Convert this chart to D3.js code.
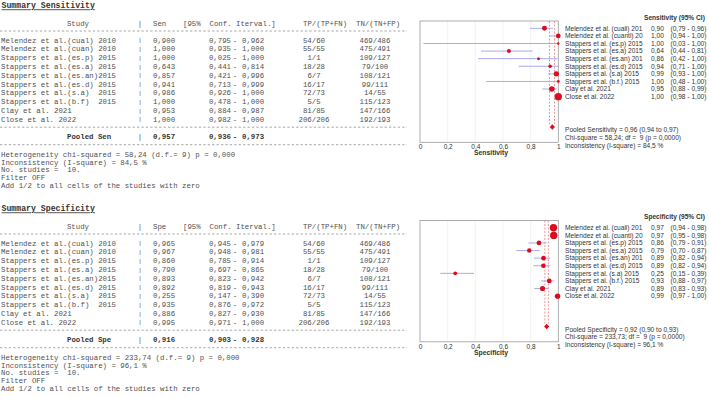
<!DOCTYPE html>
<html>
<head>
<meta charset="utf-8">
<script src="https://cdn.jsdelivr.net/npm/d3@7"></script>
<style>
  body { margin: 0; background: #fff; }
  text { white-space: pre; }
</style>
</head>
<body>
<script>
// studies as printed in the text report and in the forest plot
var tableStudies = ["Melendez et al.(cual) 2010", "Melendez et al.(cuan) 2010", "Stappers et al.(es.p) 2015",
  "Stappers et al.(es.a) 2015", "Stappers et al.(es.an)2015", "Stappers et al.(es.d) 2015",
  "Stappers et al.(s.a)  2015", "Stappers et al.(b.f)  2015", "Clay et al. 2021", "Close et al. 2022"];
var plotStudies = ["Melendez et al. (cuali) 2010", "Melendez et al. (cuanti) 2010", "Stappers et al. (es.p) 2015",
  "Stappers et al. (es.a) 2015", "Stappers et al. (es.an) 2015", "Stappers et al. (es.d) 2015",
  "Stappers et al. (s.a) 2015", "Stappers et al. (b.f.) 2015", "Clay et al. 2021", "Close et al. 2022"];
var tpCells = ["54/60", "55/55", "1/1", "18/28", "6/7", "16/17", "72/73", "5/5", "81/85", "206/206"];
var tnCells = ["469/486", "475/491", "109/127", "79/100", "108/121", "99/111", "14/55", "115/123", "147/166", "192/193"];

// sensitivity per study (estimate, lower, upper)
var senEst = [0.900, 1.000, 1.000, 0.643, 0.857, 0.941, 0.986, 1.000, 0.953, 1.000];
var senLo  = [0.7948, 0.9353, 0.0253, 0.441, 0.421, 0.713, 0.926, 0.478, 0.884, 0.982];
var senHi  = [0.962, 1.000, 1.000, 0.814, 0.996, 0.999, 1.000, 1.000, 0.987, 1.000];
// specificity per study
var speEst = [0.9653, 0.967, 0.860, 0.790, 0.893, 0.892, 0.2548, 0.9348, 0.886, 0.9948];
var speLo  = [0.9448, 0.948, 0.785, 0.697, 0.823, 0.819, 0.147, 0.876, 0.827, 0.971];
var speHi  = [0.979, 0.981, 0.914, 0.8653, 0.942, 0.943, 0.390, 0.972, 0.930, 1.000];

// pooled [estimate, lower, upper]
var senPooled = [0.957, 0.936, 0.973];
var spePooled = [0.916, 0.903, 0.928];

// heterogeneity: [sensitivity, specificity]
var chiTable = [58.24, 233.74];
var chiPlot = [58.24, 233.73];
var iSquare = [84.5, 96.1];
var degFree = 9;
var nStudies = 10;

var xTicks = [0, 0.2, 0.4, 0.6, 0.8, 1];

var W = 709, H = 398;
var mono = "'Liberation Mono', 'Courier New', monospace";
var sans = "'Liberation Sans', Arial, sans-serif";

var svg = d3.select("body").append("svg")
  .attr("width", W).attr("height", H)
  .style("background", "#fff");

// decimal comma like the original output
function comma(v, d) { return d3.format("." + d + "f")(v).replace(".", ","); }

var x = d3.scaleLinear().domain([0, 1]).range([420, 558.3]);

function drawPanel(p) {
  // ---------- text report on the left ----------
  var t = svg.append("g")
    .attr("transform", "translate(0," + p.tOff + ")")
    .style("font-family", mono)
    .style("font-size", "7.37px")
    .attr("fill", "#505050");

  function put(xx, yy, s, anchor, bold) {
    return t.append("text")
      .attr("x", xx).attr("y", yy).attr("dy", "0.35em")
      .attr("text-anchor", anchor || "start")
      .style("font-weight", bold ? "bold" : null)
      .text(s);
  }
  function dashes(yy) {
    t.append("line").attr("x1", 0).attr("x2", 407).attr("y1", yy).attr("y2", yy)
      .attr("stroke", "#808080").attr("stroke-width", 0.7)
      .attr("stroke-dasharray", "2.3,2.12");
  }

  put(1.5, 5.5, p.title, "start", true)
    .style("font-size", "8.2px")
    .style("text-decoration", "underline")
    .attr("fill", "#333");

  put(78, 23, "Study", "middle");
  put(140, 23, "|", "middle");
  put(153, 23, p.short);
  put(183, 23, "[95%  Conf. Iterval.]");
  put(303, 23, "TP/(TP+FN)");
  put(356, 23, "TN/(TN+FP)");
  dashes(31);

  var rowY = d3.scaleLinear().domain([0, 9]).range([40, 119.2]);
  tableStudies.forEach(function(s, i) {
    var yy = rowY(i);
    put(1, yy, s);
    put(140, yy, "|", "middle").style("font-size", "6px");
    put(153, yy, comma(p.est[i], 3));
    put(231, yy, comma(p.lo[i], 3), "end");
    put(235, yy, "-", "middle");
    put(242, yy, comma(p.hi[i], 3));
    put(314, yy, tpCells[i], "middle");
    put(375, yy, tnCells[i], "middle");
  });

  var base = rowY(9);
  dashes(base + 8);
  put(67, base + 17, "Pooled " + p.short, "start", true).attr("fill", "#333");
  put(140, base + 17, "|", "middle");
  put(153, base + 17, comma(p.pooled[0], 3), "start", true).attr("fill", "#333");
  put(231, base + 17, comma(p.pooled[1], 3), "end", true).attr("fill", "#333");
  put(235, base + 17, "-", "middle", true).attr("fill", "#333");
  put(242, base + 17, comma(p.pooled[2], 3), "start", true).attr("fill", "#333");
  dashes(base + 25.5);

  var notes = [
    "Heterogeneity chi-squared = " + comma(chiTable[p.k], 2) + " (d.f.= " + degFree + ") p = 0,000",
    "Inconsistency (I-square) = " + comma(iSquare[p.k], 1) + " %",
    "No. studies =  " + nStudies + ".",
    "Filter OFF",
    "Add 1/2 to all cells of the studies with zero"
  ];
  notes.forEach(function(s, i) { put(1, base + 35 + i * 7.8, s); });

  // ---------- forest plot on the right ----------
  var g = svg.append("g")
    .attr("transform", "translate(0," + p.pOff + ")")
    .style("font-family", sans);

  var y = d3.scaleLinear().domain([0, 13]).range([28.3, 127]);
  var n = p.cells.map(function(c) { return +c.split("/")[1]; });
  var radius = d3.scaleSqrt().domain([0, d3.max(n)]).range([1, 3.7]);

  // faint grid
  g.selectAll(".grid")
    .data(xTicks.slice(1, -1))
    .enter().append("line")
    .attr("x1", x).attr("x2", x)
    .attr("y1", 21).attr("y2", 142.3)
    .attr("stroke", "#f0f0f0").attr("stroke-width", 0.8);

  // frame
  g.append("rect")
    .attr("x", x(0)).attr("y", 21)
    .attr("width", x(1) - x(0)).attr("height", 121.3)
    .attr("fill", "none").attr("stroke", "#9a9a9a").attr("stroke-width", 0.8);

  // x axis labels
  var ax = g.append("g")
    .attr("transform", "translate(0,142.3)")
    .call(d3.axisBottom(x).tickValues(xTicks).tickSize(0).tickPadding(2.5)
      .tickFormat(function(d) { return String(d).replace(".", ","); }));
  ax.select(".domain").remove();
  ax.selectAll("text").style("font-family", sans).style("font-size", "6.5px").attr("fill", "#333");

  g.append("text")
    .attr("x", 491).attr("y", 153).attr("dy", "0.35em")
    .attr("text-anchor", "middle")
    .style("font-size", "6.8px").style("font-weight", "bold").attr("fill", "#333")
    .text(p.axisName);

  // pooled reference lines
  g.selectAll(".pool")
    .data([p.pooled[1], p.pooled[2]])
    .enter().append("line")
    .attr("x1", x).attr("x2", x)
    .attr("y1", 21).attr("y2", y(13) - 3)
    .attr("stroke", "#e87878").attr("stroke-width", 0.8)
    .attr("stroke-dasharray", "2,1.5");

  // confidence intervals
  g.selectAll(".ci")
    .data(p.est)
    .enter().append("line")
    .attr("x1", function(d, i) { return x(p.lo[i]); })
    .attr("x2", function(d, i) { return x(p.hi[i]); })
    .attr("y1", function(d, i) { return y(i); })
    .attr("y2", function(d, i) { return y(i); })
    .attr("stroke", "#a9a9f2").attr("stroke-width", 1);

  // study points, sized by study size
  g.selectAll(".pt")
    .data(p.est)
    .enter().append("circle")
    .attr("cx", function(d) { return x(d); })
    .attr("cy", function(d, i) { return y(i); })
    .attr("r", function(d, i) { return radius(n[i]); })
    .attr("fill", "#dc0c1f");

  // pooled diamond
  var cx = x(p.pooled[0]), cy = y(13);
  var hw = Math.max((x(p.pooled[2]) - x(p.pooled[1])) / 2, 2.6), hh = 2.8;
  g.append("path")
    .attr("d", "M" + (cx - hw) + "," + cy + "L" + cx + "," + (cy - hh) +
      "L" + (cx + hw) + "," + cy + "L" + cx + "," + (cy + hh) + "Z")
    .attr("fill", "#dc0c1f");

  // labels to the right
  var lab = g.append("g").style("font-size", "6.6px").attr("fill", "#333");
  lab.append("text")
    .attr("x", 644).attr("y", 17.3).attr("dy", "0.35em")
    .style("font-weight", "bold")
    .text(p.axisName + " (95% CI)");

  plotStudies.forEach(function(s, i) {
    var yy = y(i);
    lab.append("text").attr("x", 565).attr("y", yy).attr("dy", "0.35em").text(s.slice(0, 27));
    lab.append("text").attr("x", 651).attr("y", yy).attr("dy", "0.35em").text(comma(p.est[i], 2));
    lab.append("text").attr("x", 670.5).attr("y", yy).attr("dy", "0.35em")
      .text("(" + comma(p.lo[i], 2) + " - " + comma(p.hi[i], 2) + ")");
  });

  var summary = [
    "Pooled " + p.axisName + " = " + comma(p.pooled[0], 2) + " (" + comma(p.pooled[1], 2) + " to " + comma(p.pooled[2], 2) + ")",
    "Chi-square = " + comma(chiPlot[p.k], 2) + "; df =  " + degFree + " (p = 0,0000)",
    "Inconsistency (I-square) = " + comma(iSquare[p.k], 1) + " %"
  ];
  summary.forEach(function(s, i) {
    lab.append("text").attr("x", 565).attr("y", 130 + i * 7.6).attr("dy", "0.35em").text(s);
  });
}

drawPanel({ k: 0, title: "Summary Sensitivity", short: "Sen", axisName: "Sensitivity",
  est: senEst, lo: senLo, hi: senHi, pooled: senPooled, cells: tpCells, tOff: 0, pOff: 0 });
drawPanel({ k: 1, title: "Summary Specificity", short: "Spe", axisName: "Specificity",
  est: speEst, lo: speLo, hi: speHi, pooled: spePooled, cells: tnCells, tOff: 203, pOff: 199.5 });
</script>
</body>
</html>
